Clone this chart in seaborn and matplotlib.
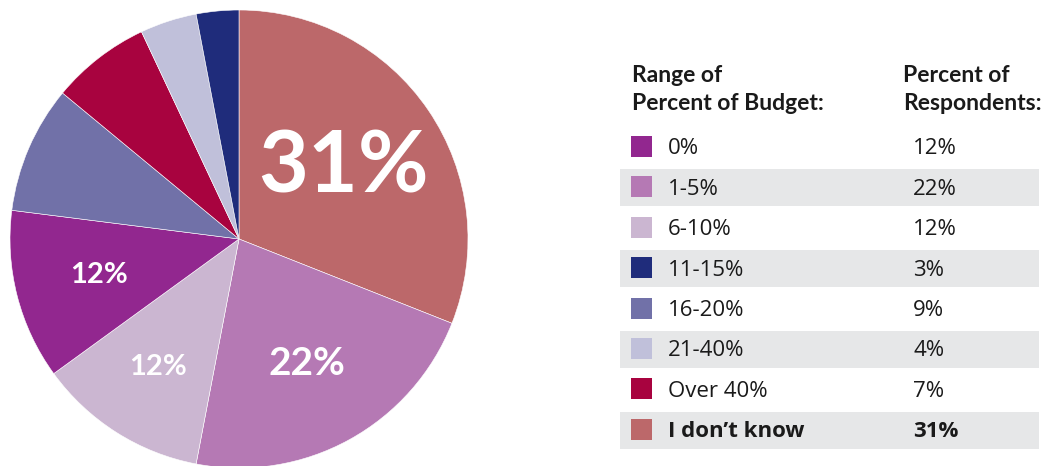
import matplotlib
matplotlib.use("Agg")
import matplotlib.pyplot as plt
import seaborn as sns
import numpy as np
from matplotlib.patches import Rectangle

# legend order
categories = ["0%", "1-5%", "6-10%", "11-15%", "16-20%", "21-40%", "Over 40%", "I don\u2019t know"]
percents = [12, 22, 12, 3, 9, 4, 7, 31]
colors = ["#92278f", "#b579b4", "#cbb6d1", "#1f2c7b", "#7171a8", "#c0c0da", "#a8033f", "#bc686a"]

# order of the wedges, clockwise from 12 o'clock
pie_order = ["I don\u2019t know", "1-5%", "6-10%", "0%", "16-20%", "Over 40%", "21-40%", "11-15%"]
# which wedges get a label, with its size and distance from centre
wedge_labels = {"I don\u2019t know": (62, 0.55), "1-5%": (28, 0.62), "6-10%": (21, 0.66), "0%": (21, 0.63)}

W, H = 1046, 466

sns.set_theme(style="white")
plt.rcParams["font.family"] = ["Lato", "DejaVu Sans"]
palette = dict(zip(categories, sns.color_palette(colors)))
values = dict(zip(categories, percents))

fig = plt.figure(figsize=(W / 100, H / 100), dpi=100)
fig.patch.set_facecolor("white")

# pie
ax = fig.add_axes([10 / W, -2 / H, 458 / W, 458 / H])
wedges, _ = ax.pie([values[c] for c in pie_order],
                   colors=[palette[c] for c in pie_order],
                   startangle=90, counterclock=False, radius=1,
                   wedgeprops=dict(linewidth=0.4, edgecolor="white"))
ax.set_xlim(-1, 1)
ax.set_ylim(-1, 1)
ax.set_aspect("equal")
ax.axis("off")

for w, c in zip(wedges, pie_order):
    if c not in wedge_labels:
        continue
    size, dist = wedge_labels[c]
    mid = np.deg2rad((w.theta1 + w.theta2) / 2)
    ax.text(dist * np.cos(mid), dist * np.sin(mid), f"{values[c]}%",
            ha="center", va="center", color="white", fontsize=size,
            fontweight="bold", family=["Lato", "DejaVu Sans"])

# table legend, in pixel coordinates
lg = fig.add_axes([0, 0, 1, 1])
lg.set_xlim(0, W)
lg.set_ylim(H, 0)
lg.axis("off")
lg.patch.set_alpha(0)

txt = "#1a1a1a"
hdr = dict(fontsize=16.5, fontweight="bold", color=txt, family=["Lato", "DejaVu Sans"], va="baseline")
lg.text(632, 82, "Range of", **hdr)
lg.text(632, 110, "Percent of Budget:", **hdr)
lg.text(903, 82, "Percent of", **hdr)
lg.text(903, 110, "Respondents:", **hdr)

row0, step = 146.5, 40.4
for i, c in enumerate(categories):
    yc = row0 + i * step
    if i % 2 == 1:
        lg.add_patch(Rectangle((620, yc - 17.5), 419, 37, color="#e6e7e8", lw=0))
    lg.add_patch(Rectangle((631, yc - 10.5), 21, 21, color=palette[c], lw=0))
    bold = c == categories[-1]
    kw = dict(fontsize=16, color=txt, va="baseline", family=["Open Sans", "DejaVu Sans"],
              fontweight="bold" if bold else "normal")
    lg.text(668, yc + 8, c, **kw)
    lg.text(913, yc + 8, f"{values[c]}%", **kw)

fig.savefig("out.png", dpi=100, facecolor="white")
